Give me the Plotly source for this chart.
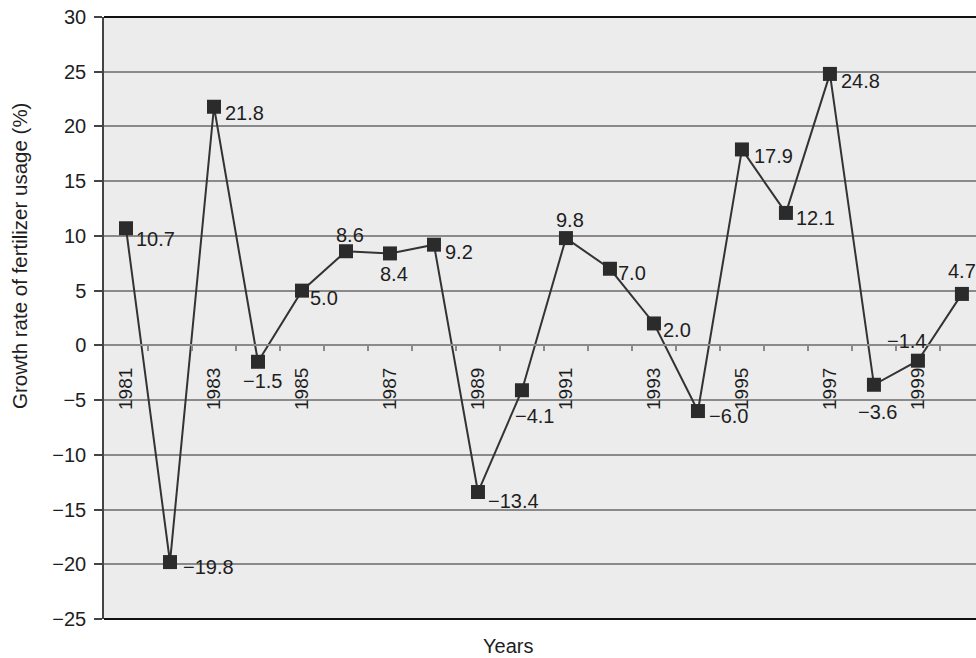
import plotly.graph_objects as go

years = list(range(1981, 2001))
growth = [10.7, -19.8, 21.8, -1.5, 5.0, 8.6, 8.4, 9.2, -13.4, -4.1,
          9.8, 7.0, 2.0, -6.0, 17.9, 12.1, 24.8, -3.6, -1.4, 4.7]
label_years = [1981, 1983, 1985, 1987, 1989, 1991, 1993, 1995, 1997, 1999]
y_ticks = [-25, -20, -15, -10, -5, 0, 5, 10, 15, 20, 25, 30]

# label placement style (pixel offsets from marker centre; anchor)
label_style = [
    ("left", 8, 11), ("left", 11, 5), ("left", 9, 6), ("center", 5, 19),
    ("left", 6, 7), ("center", 4, -16), ("center", 4, 21), ("left", 9, 7),
    ("left", 8, 9), ("center", 13, 26), ("center", 4, -18), ("left", 6, 4),
    ("left", 7, 7), ("left", 9, 5), ("left", 10, 7), ("left", 8, 5),
    ("left", 9, 7), ("center", 4, 27), ("center", -11, -20), ("center", 0, -23),
]

def fmt(v):
    s = f"{abs(v):.1f}"
    return ("\u2212" + s) if v < 0 else s

TXT = "#1e1e1e"
GRID = "#8a8a8a"
FONT = "Liberation Sans, Arial, sans-serif"

fig = go.Figure()
fig.add_trace(go.Scatter(
    x=years, y=growth, mode="lines+markers",
    line=dict(color="#333333", width=2),
    marker=dict(symbol="square", size=14, color="#2b2b2b"),
    showlegend=False, cliponaxis=False,
))
# invisible trace for tick-mark axis
fig.add_trace(go.Scatter(x=years, y=growth, xaxis="x2", mode="none",
                         showlegend=False, hoverinfo="skip"))

annotations = []
for yr, v, (anc, dx, dy) in zip(years, growth, label_style):
    annotations.append(dict(
        x=yr, y=v, xref="x", yref="y", text=fmt(v), showarrow=False,
        xanchor=anc, yanchor="middle", xshift=dx, yshift=-dy,
        font=dict(size=20, color=TXT, family=FONT),
    ))
annotations.append(dict(
    x=-0.0963, y=0.603, xref="paper", yref="paper",
    text="Growth rate of fertilizer usage (%)", showarrow=False,
    textangle=-90, xanchor="center", yanchor="middle",
    font=dict(size=20.5, color=TXT, family=FONT),
))
annotations.append(dict(
    x=0.463, y=-0.045, xref="paper", yref="paper", text="Years",
    showarrow=False, xanchor="center", yanchor="middle",
    font=dict(size=20, color=TXT, family=FONT),
))

xr = [1980.5, 2000.32]
zero_pos = (0 - y_ticks[0]) / (y_ticks[-1] - y_ticks[0])

fig.update_layout(
    width=976, height=658,
    margin=dict(l=104, r=0, t=17, b=39),
    paper_bgcolor="white", plot_bgcolor="#ececec",
    font=dict(family=FONT, color=TXT),
    xaxis=dict(
        range=xr, anchor="free", position=zero_pos,
        tickmode="array", tickvals=label_years,
        ticktext=[str(y) for y in label_years],
        tickangle=-90, ticks="", showgrid=False, zeroline=False,
        showline=True, linecolor=GRID, linewidth=1.5,
        tickfont=dict(size=19, color=TXT, family=FONT),
        ticklabelstandoff=14,
    ),
    xaxis2=dict(
        range=xr, matches="x", overlaying="x", anchor="free", position=zero_pos,
        tickmode="array", tickvals=[y + 0.5 for y in years[:-1]],
        showticklabels=False, ticks="outside", ticklen=5, tickwidth=1.5,
        tickcolor=GRID, showgrid=False, zeroline=False, showline=False,
    ),
    yaxis=dict(
        range=[y_ticks[0], y_ticks[-1]], tickmode="array", tickvals=y_ticks,
        showgrid=True, gridcolor=GRID, gridwidth=1.5, zeroline=False,
        ticks="outside", ticklen=8, tickwidth=1.5, tickcolor="#444444",
        showline=True, linecolor="#444444", linewidth=1.5,
        tickfont=dict(size=20, color=TXT, family=FONT),
        ticklabelstandoff=4,
    ),
    annotations=annotations,
    shapes=[
        dict(type="line", xref="paper", yref="paper", x0=0, x1=1, y0=1, y1=1,
             line=dict(color="#111111", width=2)),
        dict(type="line", xref="paper", yref="paper", x0=0, x1=1, y0=0, y1=0,
             line=dict(color="#111111", width=2)),
    ],
)

fig.write_html(
    "out.html",
    config={"displayModeBar": False},
    post_script="document.body.style.margin='0';document.body.style.overflow='hidden';",
)
